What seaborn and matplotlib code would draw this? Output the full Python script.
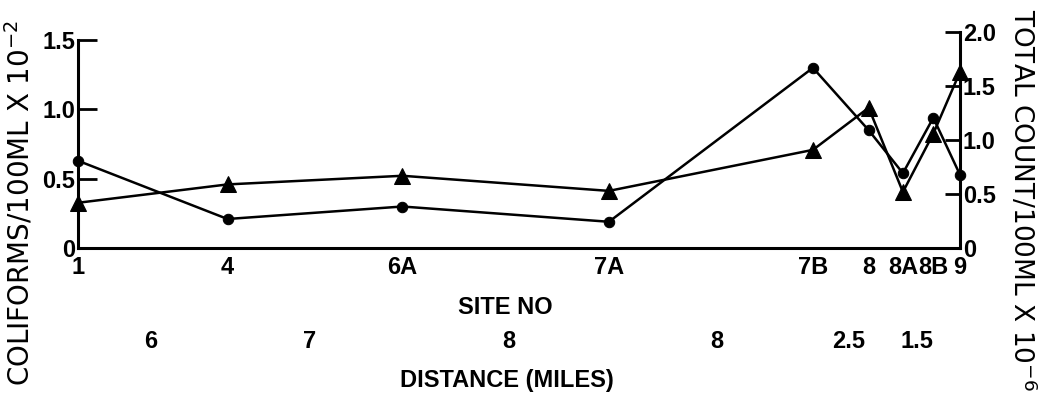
import matplotlib
matplotlib.use("Agg")
import matplotlib.pyplot as plt
import matplotlib.transforms as mtransforms
import seaborn as sns
import pandas as pd

# sites along the river, x in miles from site 1
sites = ["1", "4", "6A", "7A", "7B", "8", "8A", "8B", "9"]
site_miles = [0, 5.9, 12.8, 20.95, 29.0, 31.2, 32.55, 33.75, 34.8]

coliforms = [0.63, 0.21, 0.30, 0.19, 1.30, 0.85, 0.54, 0.94, 0.53]      # x10^-2 /100ml
total_count = [0.42, 0.59, 0.67, 0.53, 0.91, 1.30, 0.52, 1.06, 1.63]    # x10^-6 /100ml

dist_labels = ["6", "7", "8", "8", "2.5", "1.5"]
dist_pos = [2.85, 9.15, 17.0, 25.2, 30.4, 33.1]

left_ticks = [0, 0.5, 1.0, 1.5]
left_ticklabels = ["0", "0.5", "1.0", "1.5"]
right_ticks = [0, 0.5, 1.0, 1.5, 2.0]
right_ticklabels = ["0", "0.5", "1.0", "1.5", "2.0"]

sns.set_style("white")
NARROW = ["Liberation Sans", "DejaVu Sans"]
plt.rcParams["font.family"] = ["DejaVu Sans"]
for k in ["text.color", "axes.labelcolor", "xtick.color", "ytick.color"]:
    plt.rcParams[k] = "black"

df = pd.DataFrame({"miles": site_miles, "coliforms": coliforms, "total": total_count})

fig = plt.figure(figsize=(10.4, 3.97), dpi=100)
ax = fig.add_axes([0.075, 0.375, 0.848, 0.544])
ax2 = ax.twinx()

sns.lineplot(data=df, x="miles", y="coliforms", ax=ax, color="black", lw=1.8,
             marker="o", markersize=7.5, markeredgecolor="black", legend=False,
             clip_on=False)
sns.lineplot(data=df, x="miles", y="total", ax=ax2, color="black", lw=1.8,
             marker="^", markersize=11, markeredgecolor="black", legend=False,
             clip_on=False)

ax.set_xlim(0, 34.8)
ax.set_ylim(0, 1.557)
ax2.set_ylim(0, 2.0)
ax.set_xlabel("")
ax.set_ylabel("")
ax2.set_ylabel("")

for s in ["top", "right"]:
    ax.spines[s].set_visible(False)
for s in ["top", "left", "bottom"]:
    ax2.spines[s].set_visible(False)
ax.spines["left"].set_bounds(0, 1.5)
for sp in [ax.spines["left"], ax.spines["bottom"], ax2.spines["right"]]:
    sp.set_linewidth(2.2)
    sp.set_color("black")

ax.set_xticks(site_miles)
ax.set_xticklabels(sites, family=NARROW, fontsize=17, fontweight="bold")
ax.tick_params(axis="x", direction="in", length=11, width=2, pad=6)
ax.set_yticks(left_ticks)
ax.set_yticklabels(left_ticklabels, family=NARROW, fontsize=17, fontweight="bold")
ax.tick_params(axis="y", direction="in", length=13.5, width=2, pad=2)
ax2.set_yticks(right_ticks)
ax2.set_yticklabels(right_ticklabels, family=NARROW, fontsize=17, fontweight="bold")
ax2.tick_params(axis="y", direction="in", length=11, width=2, pad=2)

fig.text(20 / 1040, 1 - 203 / 397, "COLIFORMS/100ML X 10$^{-2}$", rotation=90,
         ha="center", va="center", fontsize=20)
fig.text(1022 / 1040, 1 - 200 / 397, "TOTAL COUNT/100ML X 10$^{-6}$", rotation=-90,
         ha="center", va="center", fontsize=19)

fig.text(505 / 1040, 1 - 307 / 397, "SITE NO", ha="center", va="center",
         family=NARROW, fontsize=17, fontweight="bold")
fig.text(507 / 1040, 1 - 381 / 397, "DISTANCE (MILES)", ha="center", va="center",
         family=NARROW, fontsize=17, fontweight="bold")

trans = mtransforms.blended_transform_factory(ax.transData, fig.transFigure)
for lab, x in zip(dist_labels, dist_pos):
    ax.text(x, 1 - 341 / 397, lab, transform=trans, ha="center", va="center",
            family=NARROW, fontsize=17, fontweight="bold")

fig.savefig("out.png", dpi=100)
